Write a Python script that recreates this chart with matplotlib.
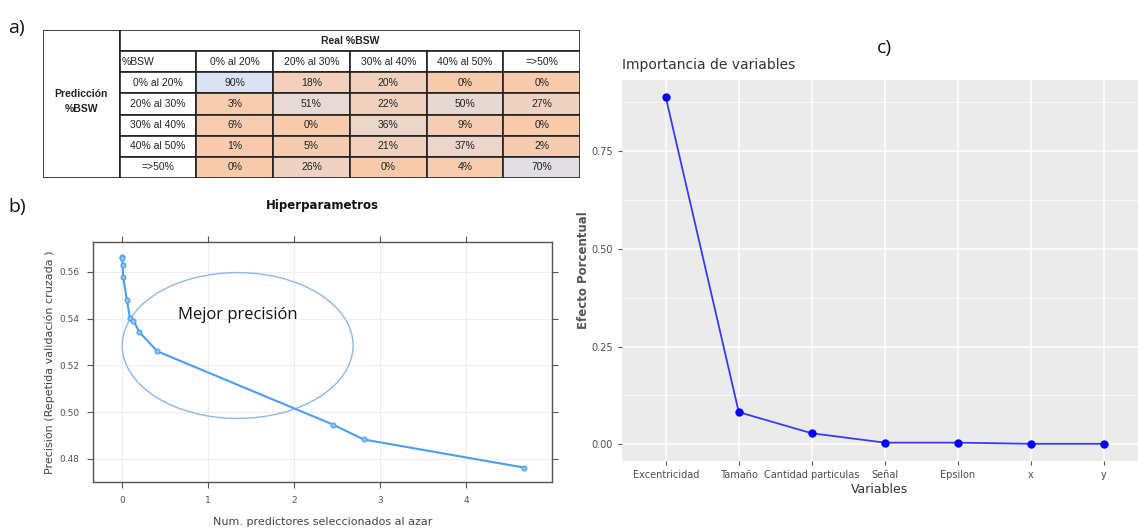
import numpy as np
import matplotlib.pyplot as plt
from matplotlib.patches import Rectangle, Ellipse
from matplotlib.colors import LinearSegmentedColormap

# ---- data ----
rangos = ["0% al 20%", "20% al 30%", "30% al 40%", "40% al 50%", "=>50%"]
confusion = np.array([
    [90, 18, 20, 0, 0],
    [3, 51, 22, 50, 27],
    [6, 0, 36, 9, 0],
    [1, 5, 21, 37, 2],
    [0, 26, 0, 4, 70],
])

mtry = [0.0, 0.0, 0.005, 0.01, 0.055, 0.09, 0.13, 0.2, 0.41, 2.45, 2.81, 4.67]
precision = [0.5665, 0.566, 0.5629, 0.5579, 0.5478, 0.5404, 0.5392, 0.5342,
             0.5260, 0.4947, 0.4883, 0.4763]

variables = ["Excentricidad", "Tamaño", "Cantidad particulas", "Señal",
             "Epsilon", "x", "y"]
efecto = [0.888, 0.082, 0.028, 0.004, 0.004, 0.001, 0.001]

W, H = 1138, 531
fig = plt.figure(figsize=(W / 100, H / 100), dpi=100)


def box(l, t, r, b):
    return [l / W, 1 - b / H, (r - l) / W, (b - t) / H]


# ---- a) table ----
ax = fig.add_axes(box(43, 30, 580, 178))
ax.set_xlim(0, 7)
ax.set_ylim(7, 0)
ax.axis("off")
cmap = LinearSegmentedColormap.from_list("exc", ["#f8cbad", "#dae3f3"])
tf = dict(family="Liberation Sans", fontsize=7.5, color="#222222")
ec = "#222222"
# outer cells
ax.add_patch(Rectangle((0, 0), 1, 7, fc="white", ec=ec, lw=1.2))
ax.add_patch(Rectangle((1, 0), 6, 1, fc="white", ec=ec, lw=1.2))
ax.text(4, 0.5, "Real %BSW", ha="center", va="center", weight="bold", **tf)
ax.text(0.5, 3.4, "Predicción\n%BSW", ha="center", va="center",
        weight="bold", linespacing=1.6, **tf)
ax.add_patch(Rectangle((1, 1), 1, 1, fc="white", ec=ec, lw=1.2))
ax.text(1.03, 1.5, "%BSW", ha="left", va="center", **tf)
for j, lab in enumerate(rangos):
    ax.add_patch(Rectangle((2 + j, 1), 1, 1, fc="white", ec=ec, lw=1.2))
    ax.text(2.5 + j, 1.5, lab, ha="center", va="center", **tf)
for i, lab in enumerate(rangos):
    ax.add_patch(Rectangle((1, 2 + i), 1, 1, fc="white", ec=ec, lw=1.2))
    ax.text(1.5, 2.5 + i, lab, ha="center", va="center", **tf)
    for j in range(5):
        v = confusion[i, j]
        ax.add_patch(Rectangle((2 + j, 2 + i), 1, 1, fc=cmap(v / confusion.max()),
                               ec=ec, lw=1.2))
        ax.text(2.5 + j, 2.5 + i, f"{v}%", ha="center", va="center", **tf)

# ---- b) hiperparametros ----
blue = "#4a9ef2"
axb = fig.add_axes(box(93, 242, 552, 482))
axb.plot(mtry, precision, color=blue, lw=1.5, marker="o", ms=3.5,
         mfc="#8ec4f7", mec=blue, mew=0.8)
axb.set_xlim(-0.34, 5.0)
axb.set_ylim(0.4701, 0.5728)
axb.set_xticks([0, 1, 2, 3, 4])
axb.set_yticks([0.48, 0.50, 0.52, 0.54, 0.56])
axb.set_yticklabels(["0.48", "0.50", "0.52", "0.54", "0.56"])
axb.grid(color="#eeeeee", lw=0.8)
axb.set_axisbelow(True)
axb.tick_params(colors="#555555", labelsize=6.5, length=4, width=0.8,
                top=True, right=True, direction="out", pad=6)
for s in axb.spines.values():
    s.set_color("#555555")
    s.set_linewidth(1.0)
axb.add_patch(Ellipse((1.343, 0.5285), 2.686, 0.0624, fill=False,
                      ec="#8cb8e6", lw=1.0))
axb.text(1.343, 0.5415, "Mejor precisión", ha="center", va="center",
         fontsize=12, family="Open Sans", color="#111111")
axb.set_title("Hiperparametros", fontsize=8.5, weight="bold", pad=24,
              color="#111111")
axb.set_xlabel("Num. predictores seleccionados al azar", fontsize=8,
               color="#444444", labelpad=9)
axb.set_ylabel("Precisión (Repetida validación cruzada )", fontsize=8,
               color="#444444", labelpad=3)

# ---- c) importancia de variables ----
axc = fig.add_axes(box(622, 80, 1138, 461))
axc.set_facecolor("#ebebeb")
xpos = np.arange(len(variables))
axc.plot(xpos, efecto, color="#3a3aff", lw=1.3, marker="o", ms=5,
         mfc="#0000ff", mec="#0000ff")
axc.set_xlim(-0.6, 6.47)
axc.set_ylim(-0.043, 0.932)
axc.set_xticks(xpos)
axc.set_xticklabels(variables)
axc.set_yticks([0.0, 0.25, 0.5, 0.75])
axc.set_yticklabels(["0.00", "0.25", "0.50", "0.75"])
axc.set_yticks([0.125, 0.375, 0.625, 0.875], minor=True)
axc.grid(which="major", color="white", lw=1.1)
axc.grid(which="minor", axis="y", color="white", lw=0.5)
axc.set_axisbelow(True)
axc.tick_params(which="major", colors="#555555", labelsize=7, length=3,
                width=0.8, labelcolor="#4d4d4d")
axc.tick_params(which="minor", length=0)
for s in axc.spines.values():
    s.set_visible(False)
axc.set_title("Importancia de variables", loc="left", fontsize=10,
              color="#333333", pad=8)
axc.set_xlabel("Variables", fontsize=9, color="#333333", labelpad=2)
axc.set_ylabel("Efecto Porcentual", fontsize=8.5, weight="bold",
               color="#555555", labelpad=1)

# ---- panel labels ----
lab = dict(fontsize=14, family="Open Sans", color="#111111", va="center")
fig.text(8 / W, 1 - 28 / H, "a)", **lab)
fig.text(8 / W, 1 - 207 / H, "b)", **lab)
fig.text(877 / W, 1 - 48 / H, "c)", **lab)

fig.savefig("out.png", dpi=100)
